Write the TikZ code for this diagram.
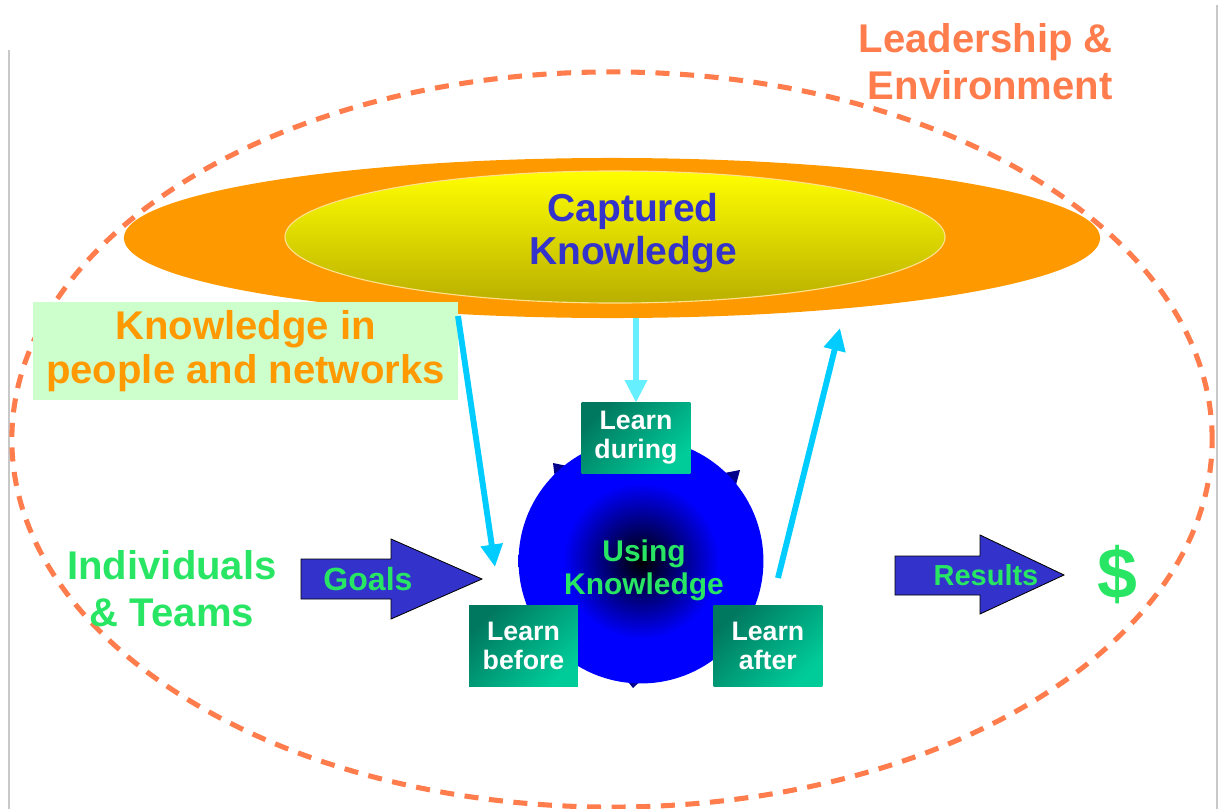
\documentclass[tikz,border=0pt]{standalone}
\usepackage{fontspec}
\setmainfont{Liberation Sans}
\usepackage{tikz}
\usetikzlibrary{calc,positioning,arrows.meta,shapes}

\definecolor{coral}{RGB}{255,124,77}
\definecolor{kmorange}{RGB}{255,153,0}
\definecolor{kmyellow}{RGB}{255,255,0}
\definecolor{kmolive}{RGB}{185,175,0}
\definecolor{kmnavy}{RGB}{51,51,204}
\definecolor{kmmint}{RGB}{204,255,204}
\definecolor{kmcyan}{RGB}{0,204,255}
\definecolor{kmaqua}{RGB}{102,240,255}
\definecolor{kmgreen}{RGB}{40,230,100}
\definecolor{tealdark}{RGB}{0,120,95}
\definecolor{teallight}{RGB}{0,204,153}
\definecolor{kmframe}{RGB}{200,200,200}
\definecolor{kmdeep}{RGB}{0,0,140}

\pgfdeclareradialshading{usingshade}{\pgfpoint{0bp}{0bp}}{color(0bp)=(black); color(16bp)=(blue); color(50bp)=(blue)}

\tikzstyle{learnbox}  = [rectangle, left color=tealdark, right color=teallight, shading angle=45, text=white, font=\fontsize{19}{20.6}\selectfont\bfseries, align=center, inner sep=0pt, minimum width=2.72cm, minimum height=2cm]
\tikzstyle{feed}      = [kmcyan, line width=4.2pt, -{Triangle[length=16pt,width=15pt]}]
\tikzstyle{blockarrow} = [fill=kmnavy, draw=black, line width=0.6pt]

\begin{document}
\begin{tikzpicture}[x=0.025cm, y=-0.025cm,
		bigtext/.style={font=\fontsize{28.5}{33.4}\selectfont\bfseries, align=center, inner sep=0pt},
		envring/.style={ellipse, draw=coral, line width=3.6pt, dash pattern=on 10pt off 7.5pt, minimum width=30cm, minimum height=18.375cm, inner sep=0pt},
		outerdisc/.style={ellipse, fill=kmorange, minimum width=24.4cm, minimum height=4cm, inner sep=0pt},
		innerdisc/.style={ellipse, top color=kmyellow, bottom color=kmolive, draw={rgb,255:red,255;green,225;blue,140}, line width=0.8pt, minimum width=16.5cm, minimum height=3.3cm, inner sep=0pt},
		usingdisc/.style={circle, shade, shading=usingshade, minimum size=6.12cm, inner sep=0pt},
	]

	\useasboundingbox (0,0) rectangle (1219,809);

	% slide frame
	\draw[kmframe, line width=1pt] (9,50) -- (9,809);
	\draw[kmframe, line width=1pt] (1217,5) -- (1217,809);

	\node[envring] (env) at (612,439.5) {};
	\node[bigtext, text=coral, align=right, anchor=east] (leadership) at (1113,62) {Leadership \&\\Environment};

	% captured knowledge
	\node[outerdisc] (captured) at (612,238) {};
	\node[innerdisc] (capturedcore) at (615,237) {};
	\node[bigtext, text=kmnavy, font=\fontsize{27.7}{30.6}\selectfont\bfseries] (capturedlabel) at (633,233) {Captured\\Knowledge};

	\node[bigtext, fill=kmmint, text=kmorange, font=\fontsize{28.5}{31.3}\selectfont\bfseries, minimum width=10.625cm, minimum height=2.45cm] (people) at (245.5,351) {Knowledge in\\people and networks};

	\coordinate (leftin) at (458,316);
	\coordinate (beforein) at (495,567);
	\coordinate (afterout) at (778,578);
	\coordinate (sharein) at (840,328);
	\draw[feed] (leftin) -- (beforein);
	\draw[feed] (afterout) -- (sharein);

	% using knowledge cycle
	\fill[kmdeep] (553,463) -- (577,468) -- (556,487) -- cycle;
	\fill[kmdeep] (740,470) -- (733,496) -- (714,475) -- cycle;
	\fill[kmdeep] (633,688) -- (620,672) -- (648,674) -- cycle;
	\node[usingdisc] (using) at (641,561) {};
	\node[bigtext, text=kmgreen, font=\fontsize{21.3}{23.5}\selectfont\bfseries] (usinglabel) at (644,570) {Using\\Knowledge};

	\node[learnbox, minimum height=1.75cm] (during) at (636,438) {Learn\\during};
	\node[learnbox] (before) at (523.5,646) {Learn\\before};
	\node[learnbox, right=3.375cm of before] (after) {Learn\\after};

	\coordinate (duringin) at (during.north |- captured.south);
	\draw[feed, kmaqua] (duringin) -- (during.north);

	% goals and results
	\node[bigtext, text=kmgreen] (teams) at (172,589) {Individuals\\\& Teams};
	\draw[blockarrow] (301,559) -- (391,559) -- (391,539) -- (482,579) -- (391,619) -- (391,599) -- (301,599) -- cycle;
	\node[bigtext, text=kmgreen, font=\fontsize{22.8}{26}\selectfont\bfseries] (goals) at (368,579) {Goals};
	\draw[blockarrow] (895,556) -- (980,556) -- (980,535) -- (1064,575) -- (980,614) -- (980,595) -- (895,595) -- cycle;
	\node[bigtext, text=kmgreen, font=\fontsize{20.6}{24}\selectfont\bfseries] (results) at (986,575) {Results};
	\node[bigtext, text=kmgreen, font=\fontsize{51}{56}\selectfont\bfseries] (dollar) at (1117,575) {\$};

\end{tikzpicture}
\end{document}
